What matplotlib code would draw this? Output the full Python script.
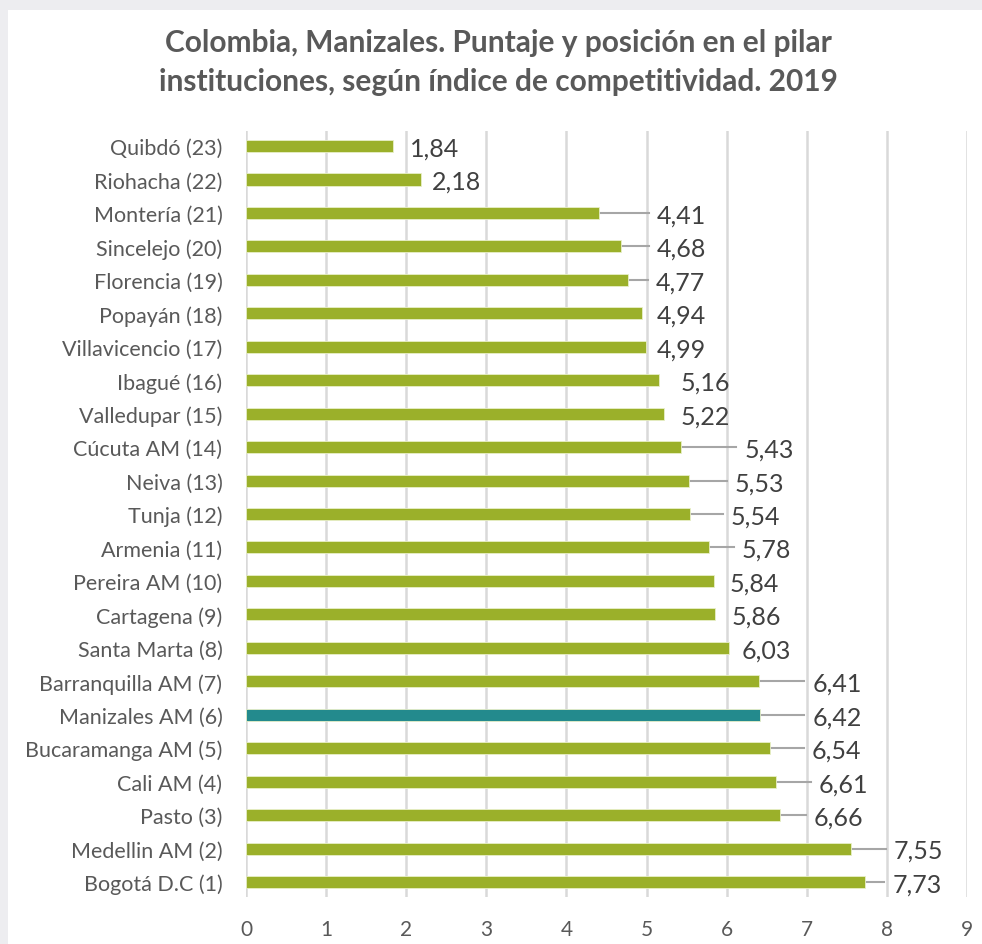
import numpy as np
import matplotlib.pyplot as plt
from matplotlib.patches import Rectangle

ciudades = ["Quibdó (23)", "Riohacha (22)", "Montería (21)", "Sincelejo (20)",
            "Florencia (19)", "Popayán (18)", "Villavicencio (17)", "Ibagué (16)",
            "Valledupar (15)", "Cúcuta AM (14)", "Neiva (13)", "Tunja (12)",
            "Armenia (11)", "Pereira AM (10)", "Cartagena (9)", "Santa Marta (8)",
            "Barranquilla AM (7)", "Manizales AM (6)", "Bucaramanga AM (5)",
            "Cali AM (4)", "Pasto (3)", "Medellin AM (2)", "Bogotá D.C (1)"]
puntaje = [1.84, 2.18, 4.41, 4.68, 4.77, 4.94, 4.99, 5.16, 5.22, 5.43, 5.53,
           5.54, 5.78, 5.84, 5.86, 6.03, 6.41, 6.42, 6.54, 6.61, 6.66, 7.55, 7.73]
destacado = "Manizales AM (6)"

# posicion (x) de la etiqueta de cada barra
pos_etiqueta = [2.05, 2.32, 5.13, 5.13, 5.12, 5.13, 5.13, 5.42, 5.42, 6.22,
                6.10, 6.05, 6.19, 6.04, 6.06, 6.19, 7.07, 7.07, 7.06, 7.15,
                7.09, 8.09, 8.07]

verde = "#9BB02A"
azul = "#238A8D"
gris_texto = "#595959"

fig = plt.figure(figsize=(9.82, 9.45), dpi=100)
fig.patch.set_facecolor("#EDEDF0")
fig.patches.append(Rectangle((8 / 982, 0), 1, 1 - 11 / 945, transform=fig.transFigure,
                             facecolor="white", edgecolor="none", zorder=-5))

ax = fig.add_axes([0.2505, 0.0497, 0.7342, 0.8106])
ax.set_facecolor("none")

y = np.arange(len(ciudades))
colores = [azul if c == destacado else verde for c in ciudades]
ax.barh(y, puntaje, height=0.36, color=colores, edgecolor="#E8EFC8", linewidth=0.6, zorder=3)

for i, (v, lx) in enumerate(zip(puntaje, pos_etiqueta)):
    if lx - v > 0.3:
        ax.plot([v, lx - 0.1], [i, i], color="#A6A6A6", lw=1.5, zorder=2)
    ax.text(lx, i + 0.06, f"{v:.2f}".replace(".", ","), va="center", ha="left",
            fontsize=18, color="#404040", family="Lato")

ax.set_xlim(0, 9)
ax.set_ylim(len(ciudades) - 0.55, -0.45)
ax.set_xticks(range(10))
ax.set_yticks(y)
ax.set_yticklabels(ciudades, family="Lato", fontsize=15.5, color=gris_texto)
ax.tick_params(axis="x", labelsize=15, labelcolor=gris_texto, length=0, pad=16)
ax.tick_params(axis="y", length=0, pad=17)
for lbl in ax.get_xticklabels():
    lbl.set_family("Lato")
ax.grid(axis="x", color="#D9D9D9", lw=1.8, zorder=0)
for s in ax.spines.values():
    s.set_visible(False)

fig.text(0.508, 0.934, "Colombia, Manizales. Puntaje y posición en el pilar\n"
         "instituciones, según índice de competitividad. 2019",
         ha="center", va="center", fontsize=21.5, fontweight="bold",
         color=gris_texto, family="Lato", linespacing=1.45)

fig.savefig("out.png", dpi=100, facecolor=fig.get_facecolor())
